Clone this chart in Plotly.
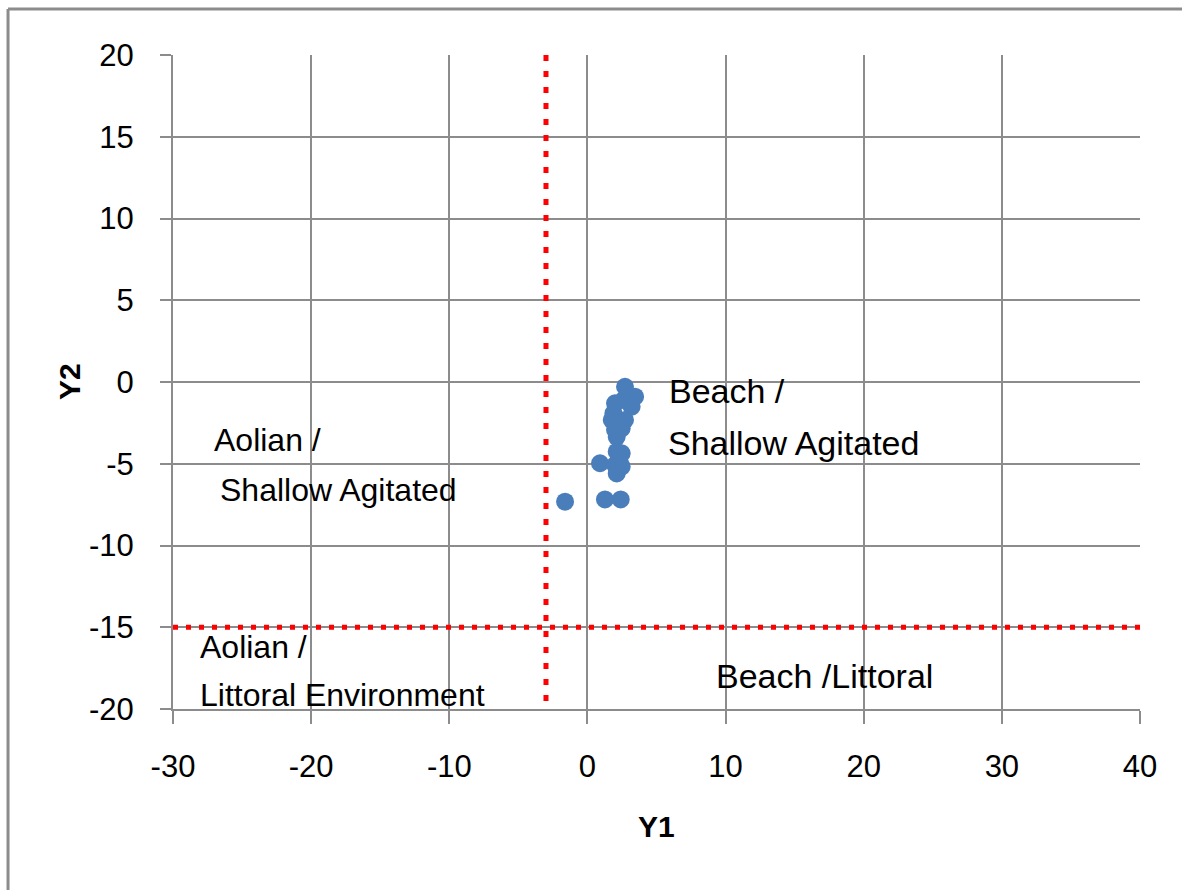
import plotly.graph_objects as go

# ---- data ----
y1_values = [2.72, 3.45, 3.20, 2.00, 1.88, 1.76, 2.72, 2.00, 2.48, 2.12,
             2.12, 2.48, 0.91, 2.00, 2.48, 2.12, -1.62, 1.27, 2.41,
             2.60, 2.30, 2.30]
y2_values = [-0.29, -0.90, -1.51, -1.30, -1.92, -2.32, -2.32, -2.94, -2.83, -3.35,
             -4.26, -4.36, -4.97, -5.08, -5.18, -5.59, -7.32, -7.18, -7.18,
             -1.10, -2.60, -4.80]

threshold_y1 = -3
threshold_y2 = -15

x_tick_vals = [-30, -20, -10, 0, 10, 20, 30, 40]
x_tick_text = ["-30", "-20", "-10", "0", "10", "20", "30", "40"]
y_tick_vals = [-20, -15, -10, -5, 0, 5, 10, 15, 20]
y_tick_text = ["-20", "-15", "-10", "-5", "0", "5", "10", "15", "20"]

region_texts = ["Beach /", "Shallow Agitated", "Aolian /", "Shallow Agitated",
                "Aolian /", "Littoral Environment", "Beach /Littoral"]

# ---- label placement (layout, not data) ----
label_layout = [
    dict(x=5.76, y=-0.58, size=34),
    dict(x=5.68, y=-3.76, size=34),
    dict(x=-27.18, y=-3.55, size=32),
    dict(x=-26.74, y=-6.6, size=32),
    dict(x=-28.19, y=-16.19, size=32),
    dict(x=-28.19, y=-19.14, size=32),
    dict(x=9.16, y=-17.98, size=34),
]

FONT = "Liberation Sans, Arial, sans-serif"
GRID = "#8c8c8c"

fig = go.Figure()

# horizontal threshold line
fig.add_trace(go.Scatter(
    x=[x_tick_vals[0], x_tick_vals[-1]], y=[threshold_y2, threshold_y2],
    mode="lines", line=dict(color="#ff0000", width=5, dash="5px,8px"),
    hoverinfo="skip", showlegend=False))
# vertical threshold line (drawn top-down so the dot pattern starts at the top)
fig.add_trace(go.Scatter(
    x=[threshold_y1, threshold_y1], y=[y_tick_vals[-1], y_tick_vals[0]],
    mode="lines", line=dict(color="#ff0000", width=5, dash="6px,10px"),
    hoverinfo="skip", showlegend=False))

fig.add_trace(go.Scatter(
    x=y1_values, y=y2_values, mode="markers",
    marker=dict(color="#4a7ebb", size=18, line=dict(width=0)),
    showlegend=False))

for text, pos in zip(region_texts, label_layout):
    fig.add_annotation(x=pos["x"], y=pos["y"], xref="x", yref="y", text=text,
                       showarrow=False, xanchor="left", yanchor="middle",
                       font=dict(family=FONT, size=pos["size"], color="#000000"))

# axis titles
fig.add_annotation(x=-0.1075, y=0.5, xref="paper", yref="paper", text="<b>Y2</b>",
                   textangle=-90, showarrow=False, xanchor="center", yanchor="middle",
                   font=dict(family=FONT, size=30, color="#000000"))
fig.add_annotation(x=0.5005, y=-0.179, xref="paper", yref="paper", text="<b>Y1</b>",
                   showarrow=False, xanchor="center", yanchor="middle",
                   font=dict(family=FONT, size=30, color="#000000"))

# outer border (top and left visible)
fig.add_shape(type="line", xref="paper", yref="paper",
              x0=-0.1706, x1=-0.1706, y0=-0.30, y1=1.0703,
              line=dict(color=GRID, width=3))
fig.add_shape(type="line", xref="paper", yref="paper",
              x0=-0.1706, x1=1.06, y0=1.0703, y1=1.0703,
              line=dict(color=GRID, width=3))

fig.update_xaxes(range=[-30, 40], tickvals=x_tick_vals, ticktext=x_tick_text,
                 showgrid=True, gridcolor=GRID, gridwidth=1.5,
                 showline=True, linecolor=GRID, linewidth=2,
                 ticks="outside", ticklen=13, tickcolor=GRID, tickwidth=2,
                 ticklabelstandoff=16,
                 zeroline=False, mirror=False,
                 tickfont=dict(family=FONT, size=31, color="#000000"))
fig.update_yaxes(range=[-20, 20], tickvals=y_tick_vals, ticktext=y_tick_text,
                 showgrid=True, gridcolor=GRID, gridwidth=1.5,
                 showline=True, linecolor=GRID, linewidth=2,
                 ticks="outside", ticklen=11, tickcolor=GRID, tickwidth=2,
                 ticklabelstandoff=20,
                 zeroline=False, mirror=False,
                 tickfont=dict(family=FONT, size=31, color="#000000"))

fig.update_layout(
    width=1182, height=890,
    margin=dict(l=173, r=42, t=55, b=181, pad=0),
    plot_bgcolor="white", paper_bgcolor="white",
    showlegend=False,
)

fig.write_html("out.html")
